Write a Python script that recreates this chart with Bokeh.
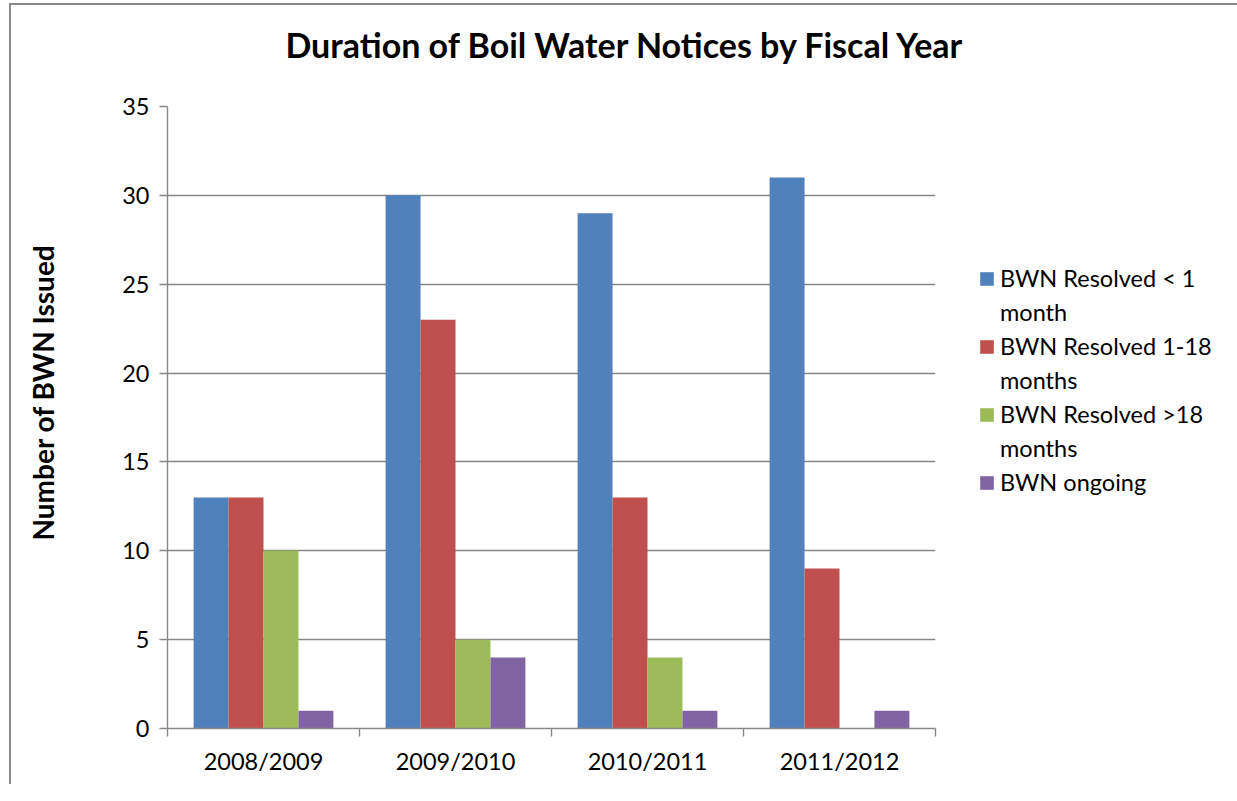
import numpy as np
from bokeh.plotting import figure
from bokeh.models import (ColumnDataSource, Range1d, FixedTicker, Legend, LegendItem, Title)
from bokeh.transform import dodge
from bokeh.embed import file_html
from bokeh.resources import INLINE

# ---- data ----
years = ["2008/2009", "2009/2010", "2010/2011", "2011/2012"]
resolved_lt1 = [13, 30, 29, 31]
resolved_1_18 = [13, 23, 13, 9]
resolved_gt18 = [10, 5, 4, 0]
ongoing = [1, 4, 1, 1]
# legend labels, wrapped as in the original (first line, continuation line)
series_labels = [("BWN Resolved < 1", "month"), ("BWN Resolved 1-18", "months"),
                 ("BWN Resolved >18", "months"), ("BWN ongoing", None)]
colors = ["#4F81BD", "#C0504D", "#9BBB59", "#8064A2"]
y_ticks = [0, 5, 10, 15, 20, 25, 30, 35]

pos = np.arange(len(years)) + 0.5
source = ColumnDataSource(dict(x=pos, s0=resolved_lt1, s1=resolved_1_18,
                               s2=resolved_gt18, s3=ongoing))

FONT = "Lato"
GRAY = "#888888"

p = figure(frame_width=768, frame_height=622, output_backend="svg", toolbar_location=None,
           x_range=Range1d(0, 4), y_range=Range1d(0, 35),
           min_border_left=207, min_border_right=250, min_border_top=122,
           min_border_bottom=56,
           title="Duration of Boil Water Notices by Fiscal Year")
p.border_fill_alpha = 0
p.outline_line_color = None
p.xgrid.grid_line_color = None
p.ygrid.grid_line_color = GRAY
p.ygrid.grid_line_width = 1.4
p.ygrid.ticker = FixedTicker(ticks=y_ticks)

p.title.text_font = FONT
p.title.text_font_style = "bold"
p.title.text_font_size = "34px"
p.title.text_color = "black"
p.title.align = "left"
p.title.offset = 118
p.title.vertical_align = "top"
p.title.standoff = 79

bw = 0.182
offsets = [-1.5 * bw, -0.5 * bw, 0.5 * bw, 1.5 * bw]
renderers = []
for i, (off, col) in enumerate(zip(offsets, colors)):
    r = p.vbar(x=dodge("x", off), top=f"s{i}", width=bw, source=source,
               fill_color=col, line_color=None)
    renderers.append(r)

# invisible renderer used for the wrapped (continuation) legend lines
blank = p.vbar(x="x", top="top", width=bw, source=ColumnDataSource(dict(x=[], top=[])),
               fill_alpha=0, line_alpha=0)

# axes
xa = p.xaxis[0]
xa.ticker = FixedTicker(ticks=list(pos), minor_ticks=list(range(len(years) + 1)))
xa.major_label_overrides = {float(v): y for v, y in zip(pos, years)}
xa.major_tick_line_color = None
xa.minor_tick_line_color = GRAY
xa.minor_tick_line_width = 1.4
xa.minor_tick_out = 8
xa.minor_tick_in = 0
xa.axis_line_color = GRAY
xa.axis_line_width = 1.4
xa.major_label_text_font = FONT
xa.major_label_text_font_size = "23.5px"
xa.major_label_text_color = "black"
xa.major_label_standoff = 10

ya = p.yaxis[0]
ya.ticker = FixedTicker(ticks=y_ticks)
ya.minor_tick_line_color = None
ya.major_tick_line_color = GRAY
ya.major_tick_line_width = 1.4
ya.major_tick_out = 8
ya.major_tick_in = 0
ya.axis_line_color = GRAY
ya.axis_line_width = 1.4
ya.major_label_text_font = FONT
ya.major_label_text_font_size = "23.5px"
ya.major_label_text_color = "black"
ya.major_label_standoff = 10

# y-axis title as a left-side title so that it can be placed along the axis
ytitle = Title(text="Number of BWN Issued", align="left", offset=188,
               vertical_align="middle", standoff=118, text_font=FONT,
               text_font_style="bold", text_font_size="28px", text_color="black")
p.add_layout(ytitle, "left")

items = []
for (first, cont), r in zip(series_labels, renderers):
    items.append(LegendItem(label=first, renderers=[r]))
    if cont:
        items.append(LegendItem(label=cont, renderers=[blank]))

legend = Legend(items=items, location=(43, 231), padding=0, margin=0,
                border_line_color=None, background_fill_alpha=0,
                glyph_width=17, glyph_height=17, label_height=30,
                label_standoff=5, spacing=4, label_text_font=FONT,
                label_text_font_size="23.5px", label_text_color="black")
p.add_layout(legend, "right")

# shift the canvas so the frame sits where it does in the original, and draw the
# thin page border (left and top edges) behind the transparent canvas border area
p.styles = {
    "margin-left": "-40px",
    "margin-top": "-16px",
    "background-image": "linear-gradient(#8a8a8a, #8a8a8a), linear-gradient(#8a8a8a, #8a8a8a)",
    "background-size": "2px 100%, 100% 2px",
    "background-position": "49px 19px, 49px 19px",
    "background-repeat": "no-repeat",
}

open("out.html", "w").write(file_html(p, INLINE))
